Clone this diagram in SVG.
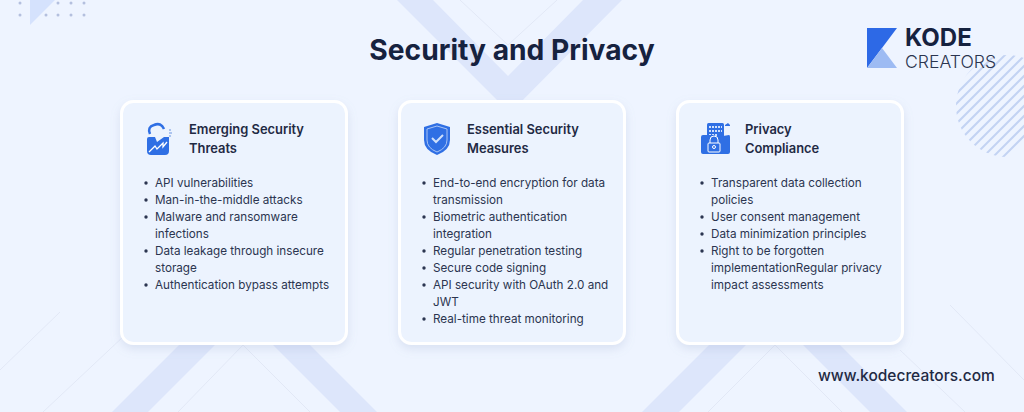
<svg xmlns="http://www.w3.org/2000/svg" width="1024" height="412" viewBox="0 0 1024 412">
<style>
text{font-family:Inter,"Noto Sans","Liberation Sans",sans-serif}
.band{fill:#dde6fb}
.thin{fill:none;stroke:#e2e8f6;stroke-width:1}
.card{fill:#ecf3fe;stroke:#fff;stroke-width:3}
.h{font-size:12.900px;font-weight:600;fill:#1f2a44}
.li{font-size:11.700px;font-weight:400;fill:#2b3550}
.b{fill:#2b3550}
.ic{fill:#2f6fe4}
.dot{fill:#b4c0de}
</style>
<defs>
<filter id="sh" x="-10%" y="-10%" width="120%" height="120%"><feDropShadow dx="0" dy="4" stdDeviation="5" flood-color="#8c9cc4" flood-opacity="0.22"/></filter>
<clipPath id="circ"><circle cx="1007" cy="106" r="51"/></clipPath>
</defs>
<rect width="1024" height="412" fill="#eef4ff"/>
<g id="background">
<polygon class="band" points="397,0 510,113 622,0 583,0 508,76 433,0"/>
<polygon class="band" points="112,412 244.500,279.500 377,412 340,412 244,316 148,412"/>
<polygon class="band" points="642,412 774.500,279.500 907,412 870,412 774.500,316.500 679,412"/>
<path class="thin" d="M460,0L508,45L557,0M178,412L243,345L310,412M708,412L775,345L842,412M43,412L125,335M60,312L0,370M950,305L1024,380M900,350L965,412"/>
<polygon points="30,0 30,25 55,0" fill="#d5e2fd"/>
<g class="dot"><circle cx="20" cy="3" r="1.500"/><circle cx="58" cy="3" r="1.500"/><circle cx="71" cy="3" r="1.500"/><circle cx="84" cy="3" r="1.500"/><circle cx="20" cy="15" r="1.500"/><circle cx="46" cy="15" r="1.500"/><circle cx="58" cy="15" r="1.500"/><circle cx="71" cy="15" r="1.500"/><circle cx="84" cy="15" r="1.500"/></g>
<g clip-path="url(#circ)" stroke="#c3d3f3" stroke-width="2" fill="none"><path d="M940,100L1020,20M940,110L1030,20M940,120L1040,20M940,130L1050,20M940,140L1060,20M940,150L1070,20M940,160L1080,20M940,170L1090,20M950,170L1100,20M960,170L1110,20M970,170L1120,20M980,170L1130,20M990,170L1140,20"/></g>
</g>
<text x="512" y="60" text-anchor="middle" font-size="28.200" font-weight="700" fill="#16223f">Security and Privacy</text>
<g id="logo">
<polygon points="867,28 897,28 882,48 867,68" fill="#2d69e6"/>
<polygon points="882,48 897,68 867,68" fill="#9dbbf3"/>
<text x="905" y="46" font-size="24" font-weight="700" fill="#16223f">KODE</text>
<text x="905" y="68" font-size="17.600" font-weight="300" fill="#2b3550">CREATORS</text>
</g>
<g id="card1">
<rect class="card" x="121.500" y="101.500" width="225" height="242" rx="12" filter="url(#sh)"/>
<g id="icon1">
<path d="M150,134 Q147,127 154,125 Q161,122 164,129" fill="none" stroke="#2f6fe4" stroke-width="2.500"/>
<path class="ic" d="M149,137L155,137L157,142L164,137L169,137Q169,137 169,139L169,151Q169,155 165,155L151,155Q147,155 147,151L147,139Q147,137 149,137Z"/>
<path d="M149,152L155,146L157,149L163,143L163,147L167,142" fill="none" stroke="#fff" stroke-width="1.300"/>
<path d="M169,130h2M169,133h3M169,136h2" stroke="#6d95e0" stroke-width="1"/>
</g>
<text class="h" x="189" y="134">Emerging Security</text>
<text class="h" x="189" y="153">Threats</text>
<g class="b"><circle cx="146" cy="183" r="1.700"/><circle cx="146" cy="200" r="1.700"/><circle cx="146" cy="217" r="1.700"/><circle cx="146" cy="251" r="1.700"/><circle cx="146" cy="285" r="1.700"/></g>
<text class="li" x="155" y="187">API vulnerabilities</text>
<text class="li" x="155" y="204">Man-in-the-middle attacks</text>
<text class="li" x="155" y="221">Malware and ransomware</text>
<text class="li" x="155" y="238">infections</text>
<text class="li" x="155" y="255">Data leakage through insecure</text>
<text class="li" x="155" y="272">storage</text>
<text class="li" x="155" y="289">Authentication bypass attempts</text>
</g>
<g id="card2">
<rect class="card" x="399.500" y="101.500" width="225" height="242" rx="12" filter="url(#sh)"/>
<g id="icon2">
<path class="ic" d="M437,123L450,127L450,140Q450,150 437,155Q424,150 424,140L424,127Z"/>
<path d="M437,126L447,129L447,140Q447,148 437,152Q427,148 427,140L427,129Z" fill="none" stroke="#a9c4f5" stroke-width="1"/>
<path d="M432,138L436,142L443,135" fill="none" stroke="#cfe0fb" stroke-width="2"/>
</g>
<text class="h" x="467" y="134">Essential Security</text>
<text class="h" x="467" y="153">Measures</text>
<g class="b"><circle cx="424" cy="183" r="1.700"/><circle cx="424" cy="217" r="1.700"/><circle cx="424" cy="251" r="1.700"/><circle cx="424" cy="268" r="1.700"/><circle cx="424" cy="285" r="1.700"/><circle cx="424" cy="319" r="1.700"/></g>
<text class="li" x="433" y="187">End-to-end encryption for data</text>
<text class="li" x="433" y="204">transmission</text>
<text class="li" x="433" y="221">Biometric authentication</text>
<text class="li" x="433" y="238">integration</text>
<text class="li" x="433" y="255">Regular penetration testing</text>
<text class="li" x="433" y="272">Secure code signing</text>
<text class="li" x="433" y="289">API security with OAuth 2.0 and</text>
<text class="li" x="433" y="306">JWT</text>
<text class="li" x="433" y="323">Real-time threat monitoring</text>
</g>
<g id="card3">
<rect class="card" x="677.500" y="101.500" width="225" height="242" rx="12" filter="url(#sh)"/>
<g id="icon3">
<rect class="ic" x="707" y="123" width="17" height="16" rx="1.500"/>
<path class="ic" d="M725,125L728,123L730,125L730,126L725,126Z"/>
<path d="M709,127h13M709,131h13M709,135h8" stroke="#cfe0fb" stroke-width="2" stroke-dasharray="2 1"/>
<path class="ic" d="M701,137Q701,135 703,135L714,135L717,137L729,135Q730,135 730,137L730,152Q730,154 728,154L703,154Q701,154 701,152Z"/>
<path d="M710,143L710,140Q710,136 714,136Q718,136 718,140L718,143" fill="none" stroke="#fff" stroke-width="1"/>
<rect x="708" y="143" width="12" height="9" rx="1" fill="none" stroke="#fff" stroke-width="1"/>
<circle cx="714" cy="147" r="1.500" fill="none" stroke="#fff" stroke-width="1"/>
</g>
<text class="h" x="745" y="134">Privacy</text>
<text class="h" x="745" y="153">Compliance</text>
<g class="b"><circle cx="702" cy="183" r="1.700"/><circle cx="702" cy="217" r="1.700"/><circle cx="702" cy="234" r="1.700"/><circle cx="702" cy="251" r="1.700"/></g>
<text class="li" x="711" y="187">Transparent data collection</text>
<text class="li" x="711" y="204">policies</text>
<text class="li" x="711" y="221">User consent management</text>
<text class="li" x="711" y="238">Data minimization principles</text>
<text class="li" x="711" y="255">Right to be forgotten</text>
<text class="li" x="711" y="272">implementationRegular privacy</text>
<text class="li" x="711" y="289">impact assessments</text>
</g>
<text x="818" y="381" font-size="15.500" font-weight="500" fill="#1f2a44">www.kodecreators.com</text>
</svg>
